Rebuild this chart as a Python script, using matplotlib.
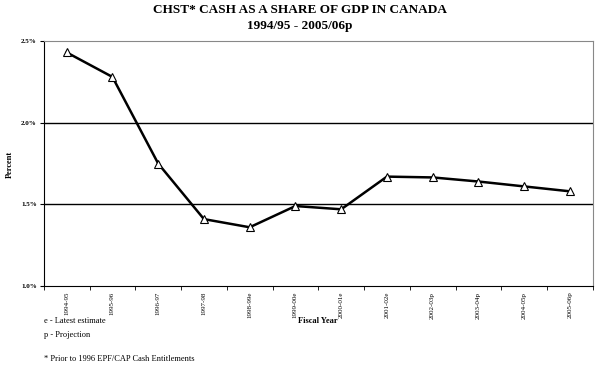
import matplotlib.pyplot as plt
import numpy as np

years = ["1994-95", "1995-96", "1996-97", "1997-98", "1998-99e", "1999-00e",
         "2000-01e", "2001-02e", "2002-03p", "2003-04p", "2004-05p", "2005-06p"]
share = [2.43, 2.28, 1.75, 1.41, 1.36, 1.49, 1.47, 1.67, 1.665, 1.64, 1.61, 1.58]
yticks = [1.0, 1.5, 2.0, 2.5]

plt.rcParams["font.family"] = ["Liberation Serif", "DejaVu Serif"]

fig = plt.figure(figsize=(6, 3.83), dpi=100)
ax = fig.add_axes([0.073, 0.253, 0.915, 0.64])

x = np.arange(len(years))
ax.plot(x, share, color="black", lw=1.8, marker="^", ms=5.5,
        markerfacecolor="white", markeredgecolor="black", markeredgewidth=0.8, zorder=3)

for g in [1.5, 2.0]:
    ax.axhline(g, color="black", lw=1, zorder=1)

ax.set_xlim(-0.5, len(years) - 0.5)
ax.set_ylim(1.0, 2.5)
ax.set_yticks(yticks)
ax.set_yticklabels([f"{v:.1f}%" for v in yticks], fontsize=5, fontweight="bold")
ax.set_xticks(x)
ax.set_xticklabels(years, rotation=90, fontsize=5)
ax.set_xticks(np.arange(len(years) + 1) - 0.5, minor=True)
ax.tick_params(axis="x", which="major", length=0, pad=4)
ax.tick_params(axis="x", which="minor", length=3, direction="out")
ax.tick_params(axis="y", length=3, direction="out", pad=2)

for s in ["top", "right"]:
    ax.spines[s].set_color("#888888")
for s in ["left", "bottom"]:
    ax.spines[s].set_color("black")

fig.text(0.5, 0.975, "CHST* CASH AS A SHARE OF GDP IN CANADA", ha="center", va="center",
         fontsize=9.5, fontweight="bold")
fig.text(0.5, 0.932, "1994/95 - 2005/06p", ha="center", va="center",
         fontsize=9.5, fontweight="bold")
fig.text(0.017, 0.57, "Percent", rotation=90, ha="center", va="center",
         fontsize=6, fontweight="bold")
fig.text(0.53, 0.163, "Fiscal Year", ha="center", va="center", fontsize=6, fontweight="bold")
fig.text(0.073, 0.163, "e - Latest estimate", ha="left", va="center", fontsize=6)
fig.text(0.073, 0.125, "p - Projection", ha="left", va="center", fontsize=6)
fig.text(0.073, 0.062, "* Prior to 1996 EPF/CAP Cash Entitlements", ha="left", va="center", fontsize=6)

fig.savefig("out.png", dpi=100)
